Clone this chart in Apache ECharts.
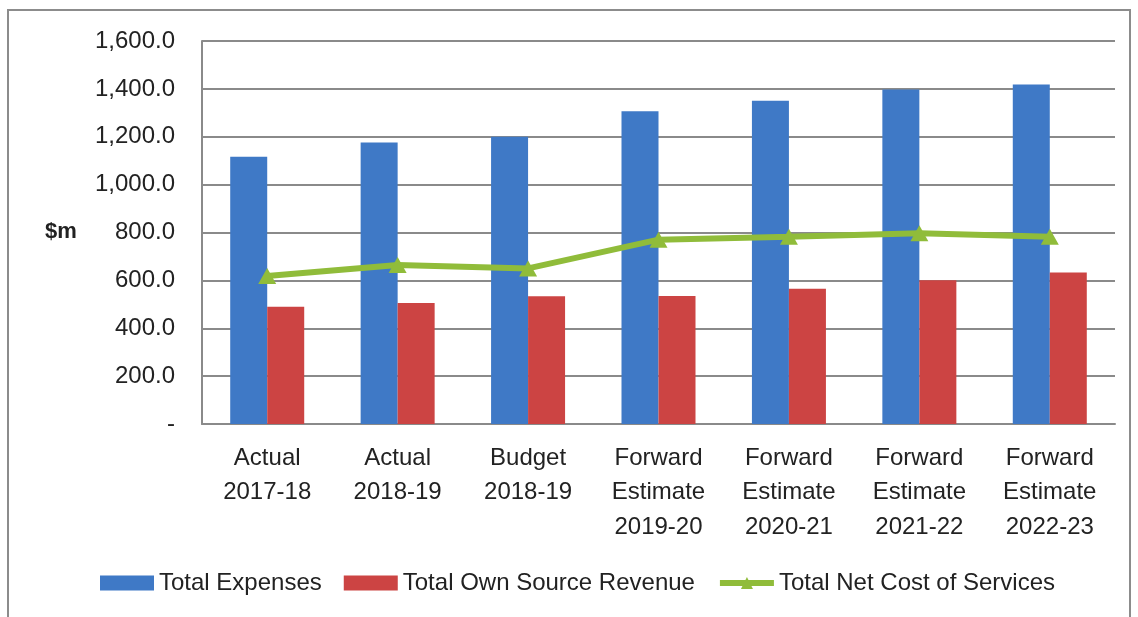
<!DOCTYPE html>
<html>
<head>
<meta charset="utf-8">
<script src="https://cdn.jsdelivr.net/npm/echarts@6/dist/echarts.min.js"></script>
<style>
  html, body { margin: 0; padding: 0; background: #fff; }
  #chart { width: 1138px; height: 617px; }
</style>
</head>
<body>
<div id="chart"></div>
<script>
// Budget categories (two/three-line axis labels)
const categories = [
  'Actual\n2017-18',
  'Actual\n2018-19',
  'Budget\n2018-19',
  'Forward\nEstimate\n2019-20',
  'Forward\nEstimate\n2020-21',
  'Forward\nEstimate\n2021-22',
  'Forward\nEstimate\n2022-23'
];

// Values in $m
const totalExpenses = [1116, 1176, 1200, 1307, 1350, 1397, 1418];
const totalOwnSourceRevenue = [490, 506, 534, 535, 565, 601, 633];
const totalNetCostOfServices = [618, 664, 650, 770, 782, 797, 782];

// Value axis ticks
const yTicks = [0, 200, 400, 600, 800, 1000, 1200, 1400, 1600];

const seriesNames = ['Total Expenses', 'Total Own Source Revenue', 'Total Net Cost of Services'];

const FONT = '"Liberation Sans", Arial, sans-serif';
const TEXT = '#222222';
const GRID = '#8a8a8a';
const BLUE = '#3F79C6';
const RED = '#CC4443';
const GREEN = '#90BC3A';

function fmtTick(v) {
  if (v === 0) return '-';
  return v.toLocaleString('en-US', { minimumFractionDigits: 1, maximumFractionDigits: 1 });
}

const chart = echarts.init(document.getElementById('chart'), null, { renderer: 'canvas' });

chart.setOption({
  animation: false,
  backgroundColor: '#ffffff',
  textStyle: { fontFamily: FONT, color: TEXT },
  graphic: [
    {
      type: 'rect',
      shape: { x: 8, y: 10, width: 1122, height: 640 },
      style: { fill: 'none', stroke: '#8c8c8c', lineWidth: 2 },
      silent: true,
      z: -10
    },
    {
      type: 'text',
      left: 45,
      top: 221,
      style: { text: '$m', font: 'bold 22px ' + FONT, fill: TEXT }
    }
  ],
  grid: {
    left: 202,
    right: 23,
    top: 41,
    bottom: 193,
    containLabel: false
  },
  legend: {
    data: [
      { name: seriesNames[0], icon: 'rect' },
      { name: seriesNames[1], icon: 'rect' },
      { name: seriesNames[2], lineStyle: { width: 6, color: GREEN } }
    ],
    left: 95,
    top: 566,
    itemWidth: 54,
    itemHeight: 15,
    itemGap: 22,
    textStyle: { fontFamily: FONT, fontSize: 24, color: TEXT }
  },
  xAxis: {
    type: 'category',
    data: categories,
    axisLine: { show: true, lineStyle: { color: GRID, width: 2 } },
    axisTick: { show: false },
    axisLabel: {
      fontFamily: FONT,
      fontSize: 24,
      color: TEXT,
      lineHeight: 34.5,
      margin: 17,
      interval: 0
    }
  },
  yAxis: {
    type: 'value',
    min: yTicks[0],
    max: yTicks[yTicks.length - 1],
    interval: yTicks[1] - yTicks[0],
    axisLine: { show: true, lineStyle: { color: GRID, width: 2 } },
    axisTick: { show: false },
    splitLine: { show: true, lineStyle: { color: GRID, width: 2 } },
    axisLabel: {
      fontFamily: FONT,
      fontSize: 24,
      color: TEXT,
      margin: 27,
      formatter: fmtTick
    }
  },
  series: [
    {
      name: seriesNames[0],
      type: 'bar',
      data: totalExpenses,
      barWidth: 37,
      barGap: '0%',
      itemStyle: { color: BLUE }
    },
    {
      name: seriesNames[1],
      type: 'bar',
      data: totalOwnSourceRevenue,
      barWidth: 37,
      barGap: '0%',
      itemStyle: { color: RED }
    },
    {
      name: seriesNames[2],
      type: 'line',
      data: totalNetCostOfServices,
      symbol: 'triangle',
      symbolSize: [18, 16],
      lineStyle: { color: GREEN, width: 6 },
      itemStyle: { color: GREEN },
      z: 5
    }
  ]
});
</script>
</body>
</html>
